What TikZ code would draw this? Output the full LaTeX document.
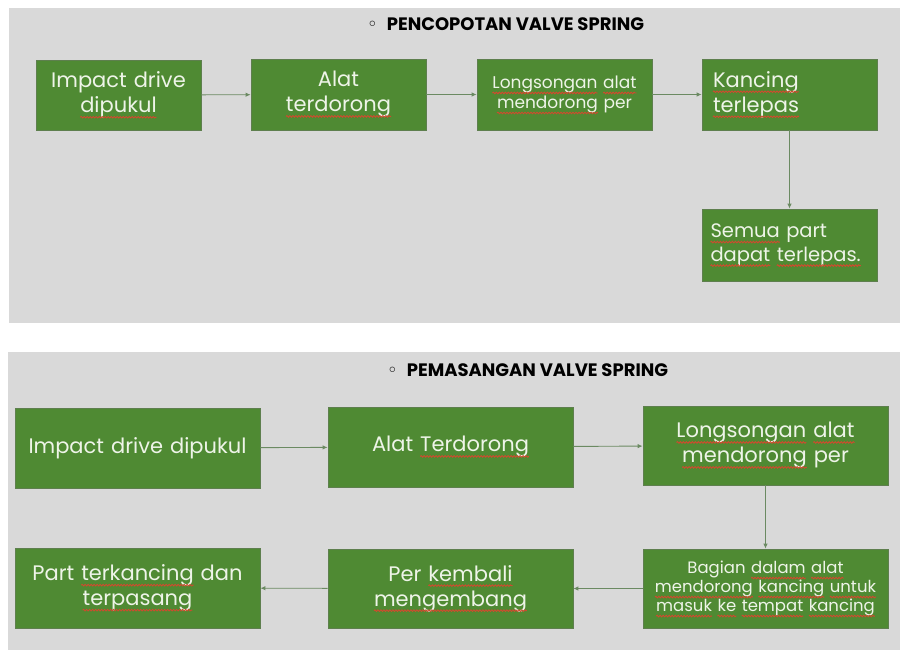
\documentclass[tikz,border=0pt]{standalone}
\usepackage{fontspec}
\setmainfont{Poppins}
\newfontfamily\bulletfont{DejaVu Sans}
\usepackage{xcolor}
\usetikzlibrary{arrows.meta, decorations.pathmorphing}
\definecolor{panelgray}{HTML}{D9D9D9}
\definecolor{boxgreen}{HTML}{4F8A33}
\definecolor{boxedge}{HTML}{5E7F4E}
\definecolor{boxtext}{HTML}{EEF4E8}
\definecolor{flowline}{HTML}{6B8A62}
\definecolor{wavered}{HTML}{D04A2E}

%% garis gelombang merah (tanda ejaan) di bawah kata
\newsavebox\wavebox
\newcommand\spellwave[1]{\sbox\wavebox{#1}\leavevmode\usebox\wavebox
  \tikz[overlay, baseline=0pt]\draw[wavered, line width=0.9pt, decorate,
    decoration={snake, amplitude=0.8pt, segment length=3pt}]
    (-\wd\wavebox,-4.5pt) -- (0pt,-4.5pt);}

\begin{document}
\begin{tikzpicture}[x=1pt, y=-1pt, >={Latex[length=5pt,width=4.5pt]},
                    stepbox/.style={draw=boxedge, fill=boxgreen, text=boxtext,
                      line width=0.8pt, align=center, inner xsep=4pt,
                      font=\fontsize{21}{25}\selectfont},
                    smallbox/.style={stepbox, font=\fontsize{17}{20}\selectfont},
                    leftbox/.style={stepbox, align=left, inner xsep=11pt},
                    flow/.style={draw=flowline, line width=0.9pt, ->},
                    title/.style={anchor=west, inner sep=0pt,
                      font=\fontsize{18}{20}\selectfont\bfseries}]

\useasboundingbox (0,0) rectangle (900,650);

%% ==== panel atas: pencopotan ========================================
\fill[panelgray] (9,8) rectangle (900,323);

\node[title] (t1) at (367,24) {{\bulletfont\mdseries ◦}\hspace{9pt}PENCOPOTAN VALVE SPRING};

\node[stepbox, minimum width=165, minimum height=70, text width=157] (p1) at (118.5,95)
  {Impact drive\\\spellwave{dipukul}};
\node[stepbox, minimum width=175, minimum height=71, text width=167] (p2) at (338.5,94.5)
  {Alat\\\spellwave{terdorong}};
\node[smallbox, minimum width=175, minimum height=71, text width=167] (p3) at (564.5,94.5)
  {\spellwave{Longsongan} \spellwave{alat}\\\spellwave{mendorong} per};
\node[leftbox, minimum width=175, minimum height=71, text width=153] (p4) at (789.5,94.5)
  {\spellwave{Kancing}\\\spellwave{terlepas}};
\node[leftbox, minimum width=175, minimum height=72, text width=158, inner xsep=8.5pt,
      font=\fontsize{19.5}{23.5}\selectfont] (p5) at (789.5,245)
  {\spellwave{Semua} part\\\spellwave{dapat} \spellwave{terlepas.}};

\draw[flow] (p1) -- (p2);
\draw[flow] (p2) -- (p3);
\draw[flow] (p3) -- (p4);
\draw[flow] (p4) -- (p5);

%% ==== panel bawah: pemasangan =======================================
\fill[panelgray] (8,352) rectangle (900,650);

\node[title] (t2) at (387,370) {{\bulletfont\mdseries ◦}\hspace{9pt}PEMASANGAN VALVE SPRING};

\node[stepbox, minimum width=245, minimum height=80, text width=237] (m1) at (137.5,448)
  {Impact drive dipukul};
\node[stepbox, minimum width=245, minimum height=80, text width=237] (m2) at (450.5,447)
  {Alat \spellwave{Terdorong}};
\node[stepbox, minimum width=245, minimum height=79, text width=237] (m3) at (765.5,445.5)
  {\spellwave{Longsongan} \spellwave{alat}\\\spellwave{mendorong} per};
\node[smallbox, minimum width=245, minimum height=79, text width=237,
      font=\fontsize{16.5}{19}\selectfont] (m4) at (765.5,588.5)
  {Bagian \spellwave{dalam} \spellwave{alat}\\\spellwave{mendorong} \spellwave{kancing} \spellwave{untuk}\\
   \spellwave{masuk} \spellwave{ke} \spellwave{tempat} \spellwave{kancing}};
\node[stepbox, minimum width=245, minimum height=79, text width=237] (m5) at (450.5,588.5)
  {Per \spellwave{kembali}\\\spellwave{mengembang}};
\node[stepbox, minimum width=245, minimum height=80, text width=237] (m6) at (137.5,588)
  {Part \spellwave{terkancing} dan\\\spellwave{terpasang}};

\draw[flow] (m1) -- (m2);
\draw[flow] (m2) -- (m3);
\draw[flow] (m3) -- (m4);
\draw[flow] (m4) -- (m5);
\draw[flow] (m5) -- (m6);

\end{tikzpicture}
\end{document}
